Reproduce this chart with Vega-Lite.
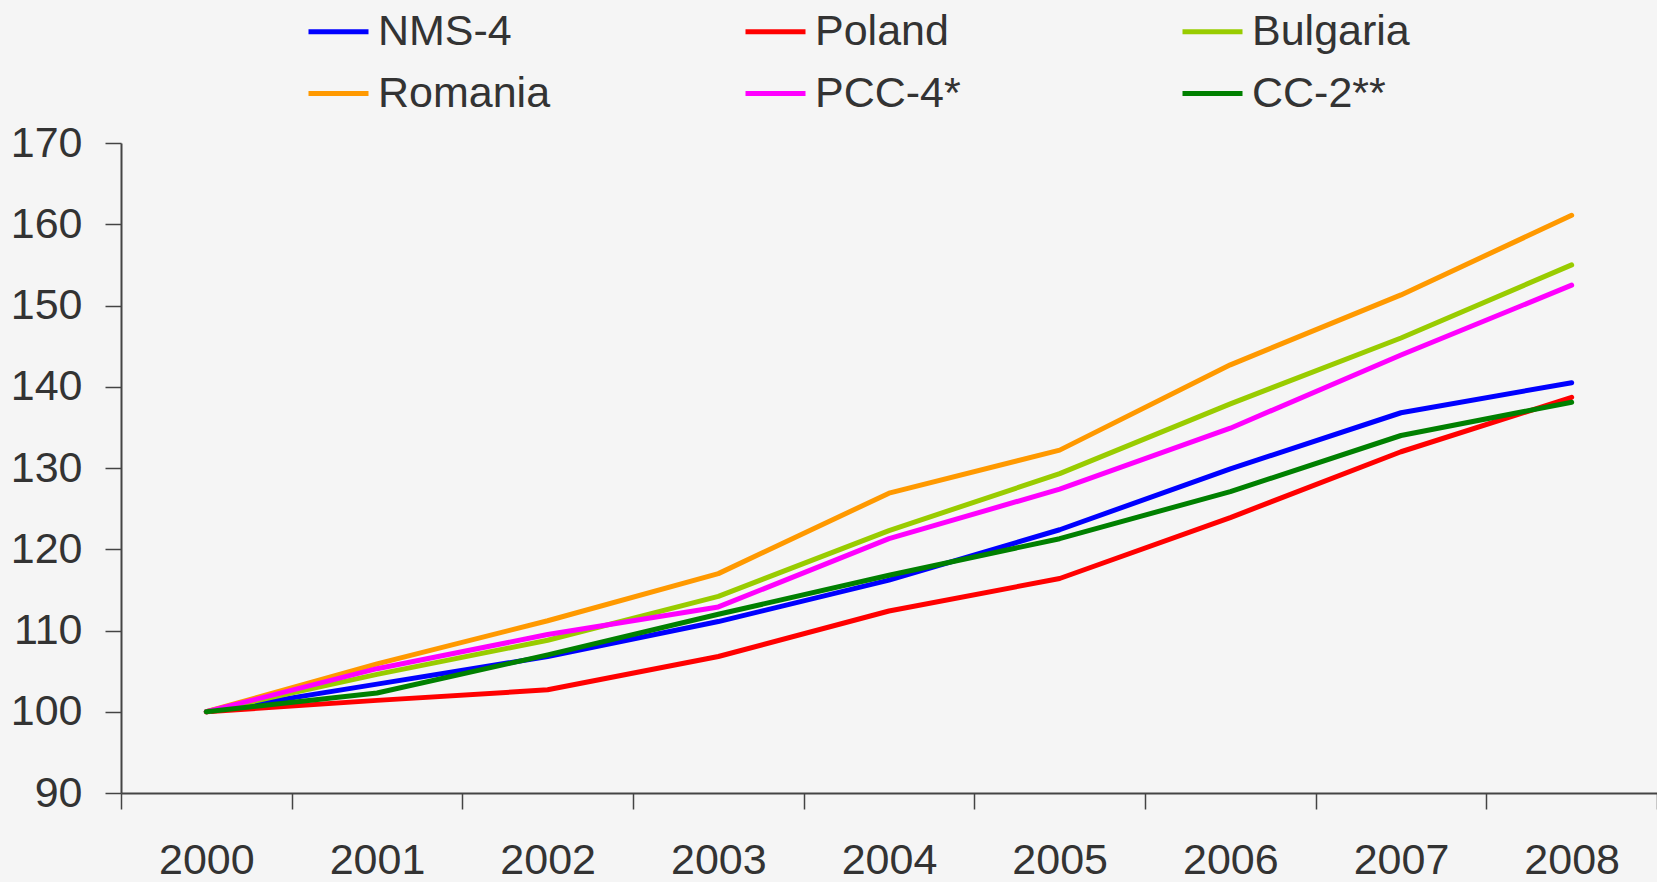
{
  "$schema": "https://vega.github.io/schema/vega-lite/v6.json",
  "width": 1536,
  "height": 650,
  "autosize": "none",
  "padding": {"left": 121, "top": 143, "right": 0, "bottom": 89},
  "background": "#f5f5f5",
  "config": {
    "view": {"stroke": null},
    "font": "Liberation Sans",
    "axis": {"labelFont": "Liberation Sans", "labelFontSize": 43, "labelColor": "#333333", "domainColor": "#444444", "tickColor": "#444444", "domainWidth": 2, "tickWidth": 1.5, "grid": false, "title": null}
  },
  "data": {
    "values": [
      {"year": "2000", "series": "NMS-4", "value": 100},
      {"year": "2001", "series": "NMS-4", "value": 103.4},
      {"year": "2002", "series": "NMS-4", "value": 106.8},
      {"year": "2003", "series": "NMS-4", "value": 111.1},
      {"year": "2004", "series": "NMS-4", "value": 116.2},
      {"year": "2005", "series": "NMS-4", "value": 122.4},
      {"year": "2006", "series": "NMS-4", "value": 129.9},
      {"year": "2007", "series": "NMS-4", "value": 136.8},
      {"year": "2008", "series": "NMS-4", "value": 140.5},
      {"year": "2000", "series": "Poland", "value": 100},
      {"year": "2001", "series": "Poland", "value": 101.4},
      {"year": "2002", "series": "Poland", "value": 102.7},
      {"year": "2003", "series": "Poland", "value": 106.8},
      {"year": "2004", "series": "Poland", "value": 112.4},
      {"year": "2005", "series": "Poland", "value": 116.4},
      {"year": "2006", "series": "Poland", "value": 123.9},
      {"year": "2007", "series": "Poland", "value": 132.0},
      {"year": "2008", "series": "Poland", "value": 138.7},
      {"year": "2000", "series": "Bulgaria", "value": 100},
      {"year": "2001", "series": "Bulgaria", "value": 104.6},
      {"year": "2002", "series": "Bulgaria", "value": 108.8},
      {"year": "2003", "series": "Bulgaria", "value": 114.2},
      {"year": "2004", "series": "Bulgaria", "value": 122.3},
      {"year": "2005", "series": "Bulgaria", "value": 129.3},
      {"year": "2006", "series": "Bulgaria", "value": 137.9},
      {"year": "2007", "series": "Bulgaria", "value": 146.0},
      {"year": "2008", "series": "Bulgaria", "value": 155.0},
      {"year": "2000", "series": "Romania", "value": 100},
      {"year": "2001", "series": "Romania", "value": 105.9},
      {"year": "2002", "series": "Romania", "value": 111.2},
      {"year": "2003", "series": "Romania", "value": 117.0},
      {"year": "2004", "series": "Romania", "value": 126.9},
      {"year": "2005", "series": "Romania", "value": 132.2},
      {"year": "2006", "series": "Romania", "value": 142.7},
      {"year": "2007", "series": "Romania", "value": 151.3},
      {"year": "2008", "series": "Romania", "value": 161.1},
      {"year": "2000", "series": "PCC-4*", "value": 100},
      {"year": "2001", "series": "PCC-4*", "value": 105.3},
      {"year": "2002", "series": "PCC-4*", "value": 109.5},
      {"year": "2003", "series": "PCC-4*", "value": 112.9},
      {"year": "2004", "series": "PCC-4*", "value": 121.3},
      {"year": "2005", "series": "PCC-4*", "value": 127.4},
      {"year": "2006", "series": "PCC-4*", "value": 134.9},
      {"year": "2007", "series": "PCC-4*", "value": 143.9},
      {"year": "2008", "series": "PCC-4*", "value": 152.5},
      {"year": "2000", "series": "CC-2**", "value": 100},
      {"year": "2001", "series": "CC-2**", "value": 102.3},
      {"year": "2002", "series": "CC-2**", "value": 107.0},
      {"year": "2003", "series": "CC-2**", "value": 112.0},
      {"year": "2004", "series": "CC-2**", "value": 116.8},
      {"year": "2005", "series": "CC-2**", "value": 121.3},
      {"year": "2006", "series": "CC-2**", "value": 127.1},
      {"year": "2007", "series": "CC-2**", "value": 134.0},
      {"year": "2008", "series": "CC-2**", "value": 138.1}
    ]
  },
  "mark": {"type": "line", "strokeWidth": 5, "strokeCap": "round", "strokeJoin": "round"},
  "encoding": {
    "x": {
      "field": "year", "type": "ordinal",
      "scale": {"type": "band", "paddingInner": 0, "paddingOuter": 0},
      "axis": {"labelAngle": 0, "tickBand": "extent", "tickSize": 16, "labelPadding": 30, "labelBaseline": "top"}
    },
    "y": {
      "field": "value", "type": "quantitative",
      "scale": {"domain": [90, 170], "nice": false, "zero": false},
      "axis": {"values": [90, 100, 110, 120, 130, 140, 150, 160, 170], "tickSize": 16, "labelPadding": 23}
    },
    "color": {
      "field": "series", "type": "nominal",
      "scale": {"domain": ["NMS-4", "Poland", "Bulgaria", "Romania", "PCC-4*", "CC-2**"], "range": ["#0000ff", "#ff0000", "#99cc00", "#ff9900", "#ff00ff", "#008000"]},
      "legend": {
        "orient": "none", "legendX": 185, "legendY": -144, "columns": 3, "direction": "horizontal",
        "gridAlign": "all", "columnPadding": 184, "rowPadding": 7, "padding": 0,
        "title": null, "symbolType": "stroke", "symbolSize": 3600, "symbolStrokeWidth": 5,
        "labelFontSize": 43, "labelFont": "Liberation Sans", "labelColor": "#333333", "labelOffset": 7, "labelLimit": 400
      }
    }
  }
}
